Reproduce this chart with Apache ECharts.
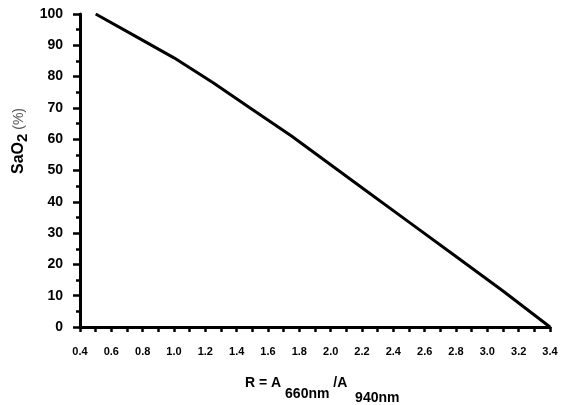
<!DOCTYPE html>
<html>
<head>
<meta charset="utf-8">
<script src="https://cdn.jsdelivr.net/npm/echarts@6/dist/echarts.min.js"></script>
<style>
html,body{margin:0;padding:0;background:#fff;}
#chart{width:576px;height:405px;}
</style>
</head>
<body>
<div id="chart"></div>
<script>
// Ratio R (x) and SaO2 % (y)
var ratioValues = [0.5, 0.75, 1.0, 1.25, 1.5, 1.75, 1.9, 2.2, 2.5, 2.8, 3.1, 3.4];
var sao2Values  = [100, 93, 86, 78, 69.5, 61, 55.5, 44.5, 33.5, 22.5, 11.5, 0];
var xTickLabels = ['0.4','0.6','0.8','1.0','1.2','1.4','1.6','1.8','2.0','2.2','2.4','2.6','2.8','3.0','3.2','3.4'];
var yTickLabels = ['0','10','20','30','40','50','60','70','80','90','100'];

var seriesData = ratioValues.map(function (r, i) { return [r, sao2Values[i]]; });
var FONT = "'Liberation Sans', Arial, sans-serif";

var chart = echarts.init(document.getElementById('chart'), null, {renderer: 'canvas'});
chart.setOption({
  animation: false,
  backgroundColor: '#fff',
  grid: {left: 80, right: 26, top: 14, bottom: 78},
  xAxis: {
    type: 'value', min: 0.4, max: 3.4, interval: 0.2,
    axisLine: {show: true, lineStyle: {color: '#000', width: 3}},
    axisTick: {show: true, length: 5, lineStyle: {color: '#000', width: 2.5}},
    minorTick: {show: true, splitNumber: 2, length: 5, lineStyle: {color: '#000', width: 2.5}},
    splitLine: {show: false},
    axisLabel: {
      margin: 19, color: '#000', fontSize: 11, fontWeight: 'bold', fontFamily: FONT,
      formatter: function (v) {
        var i = Math.round((v - 0.4) / 0.2);
        return xTickLabels[i] !== undefined ? xTickLabels[i] : '';
      }
    }
  },
  yAxis: {
    type: 'value', min: 0, max: 100, interval: 10,
    axisLine: {show: true, lineStyle: {color: '#000', width: 3}},
    axisTick: {show: true, length: 7, lineStyle: {color: '#000', width: 2.5}},
    minorTick: {show: true, splitNumber: 2, length: 4, lineStyle: {color: '#000', width: 2.5}},
    splitLine: {show: false},
    axisLabel: {
      margin: 17, color: '#000', fontSize: 14, fontWeight: 'bold', fontFamily: FONT,
      formatter: function (v) {
        var i = Math.round(v / 10);
        return yTickLabels[i] !== undefined ? yTickLabels[i] : '';
      }
    }
  },
  graphic: [
    {
      type: 'text', left: 245, top: 376, silent: true,
      style: {
        text: '{m|R = A}{s1| 660nm}{m| /A}{s2|  940nm}',
        rich: {
          m: {fontSize: 14, fontWeight: 'bold', fontFamily: FONT, fill: '#000', verticalAlign: 'top', lineHeight: 14},
          s1: {fontSize: 14, fontWeight: 'bold', fontFamily: FONT, fill: '#000', verticalAlign: 'top', lineHeight: 14, padding: [11, 0, 0, 0]},
          s2: {fontSize: 14, fontWeight: 'bold', fontFamily: FONT, fill: '#000', verticalAlign: 'top', lineHeight: 14, padding: [15, 0, 0, 0]}
        }
      }
    },
    {
      type: 'text', x: 19, y: 141, rotation: Math.PI / 2, silent: true,
      style: {
        text: '{m|SaO}{s|2}{p| (%)}',
        align: 'center', verticalAlign: 'middle',
        rich: {
          m: {fontSize: 16, fontWeight: 'bold', fontFamily: FONT, fill: '#000', verticalAlign: 'top', lineHeight: 16},
          s: {fontSize: 15, fontWeight: 'bold', fontFamily: FONT, fill: '#000', verticalAlign: 'top', lineHeight: 16, padding: [4, 0, 0, 0]},
          p: {fontSize: 14, fontWeight: 'normal', fontFamily: FONT, fill: '#555', verticalAlign: 'top', lineHeight: 16, padding: [1, 0, 0, 0]}
        }
      }
    }
  ],
  series: [{
    type: 'line',
    data: seriesData,
    showSymbol: false,
    smooth: false,
    lineStyle: {color: '#000', width: 3},
    itemStyle: {color: '#000'}
  }]
});
</script>
</body>
</html>
